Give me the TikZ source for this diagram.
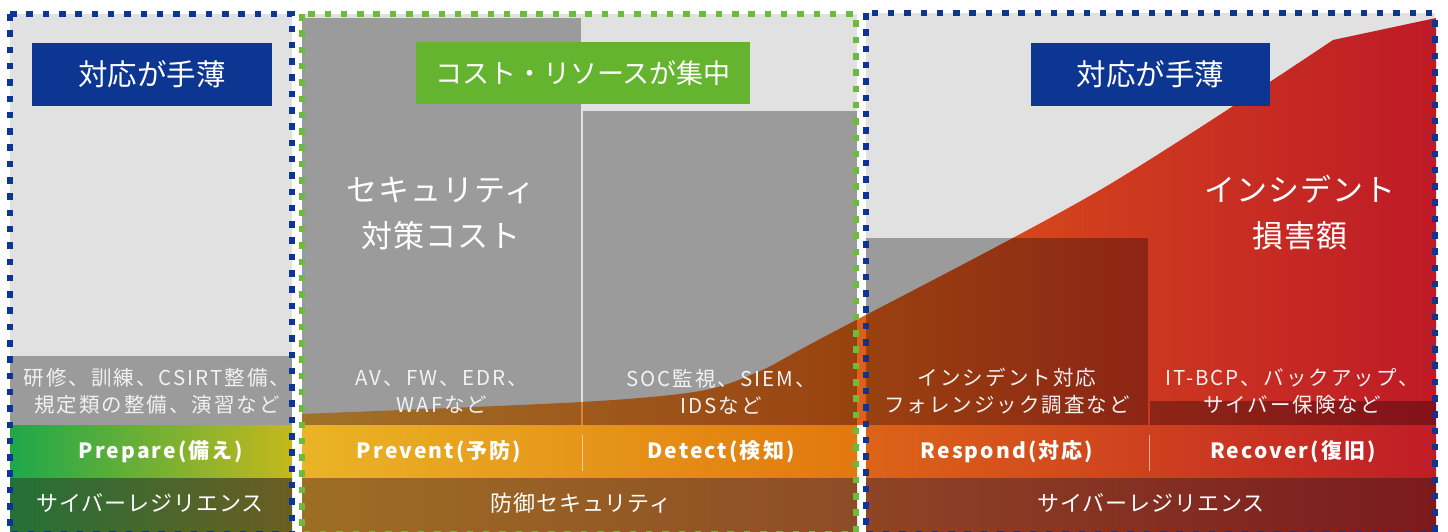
\documentclass[tikz,border=0pt]{standalone}
\usepackage{fontspec}
\setmainfont{Noto Sans CJK JP}
\newfontfamily\jpls{Noto Sans CJK JP}[LetterSpace=10]
\newfontfamily\jpbl{Noto Sans CJK JP}[LetterSpace=10]
\newfontfamily\jpbig{Noto Sans CJK JP}[LetterSpace=3]
\newfontfamily\jprow{Noto Sans CJK JP}[LetterSpace=4]
\definecolor{panelgray}{HTML}{E1E1E1}
\definecolor{dotblue}{HTML}{0C3594}
\definecolor{dotgreen}{HTML}{6CBB3C}
\definecolor{tagblue}{HTML}{0D3592}
\definecolor{taggreen}{HTML}{64B42F}
\definecolor{subwhite}{HTML}{F2F2F2}
\definecolor{dmgA}{HTML}{EAA63A}
\definecolor{dmgB}{HTML}{DF5F18}
\definecolor{dmgD}{HTML}{CF3C1E}
\definecolor{dmgC}{HTML}{BE1A27}
\pgfdeclarehorizontalshading{dmgshade}{100bp}{color(0bp)=(dmgA); color(25bp)=(dmgA); color(49.9bp)=(dmgB); color(60.2bp)=(dmgD); color(75bp)=(dmgC); color(100bp)=(dmgC)}
\definecolor{lrA}{HTML}{1EA84C}
\definecolor{lrB}{HTML}{C4B81C}
\definecolor{lsA}{HTML}{247038}
\definecolor{lsB}{HTML}{6B5D22}
\definecolor{mrA}{HTML}{EAB426}
\definecolor{mrB}{HTML}{E2780E}
\definecolor{msA}{HTML}{9E6E24}
\definecolor{msB}{HTML}{8D4C26}
\definecolor{rrA}{HTML}{DC6418}
\definecolor{rrB}{HTML}{C01C26}
\definecolor{rsA}{HTML}{8E4426}
\definecolor{rsB}{HTML}{7A1A1E}
\begin{document}
\begin{tikzpicture}[x=1pt,y=-1pt,
  panelbg/.style={fill=panelgray},
  costbar/.style={fill=black, fill opacity=0.31},
  tagbox/.style={minimum height=63pt, inner sep=0pt, text=white, font=\fontsize{29.5}{32}\selectfont},
  subtxt/.style={text=subwhite, align=center, inner sep=0pt, font=\jpls\fontsize{20.5}{27}\selectfont},
  phase/.style={text=white, inner sep=0pt, font=\jpbl\bfseries\fontsize{21}{24}\selectfont},
  rowtxt/.style={text=white, inner sep=0pt, font=\jprow\fontsize{22}{26}\selectfont},
  bigtxt/.style={text=white, align=center, inner sep=0pt, font=\jpbig\fontsize{31}{46}\selectfont},
  bluedots/.style={draw=dotblue, line width=6.5pt, dash pattern=on 6.5pt off 9.8pt},
  greendots/.style={draw=dotgreen, line width=6.5pt, dash pattern=on 6.5pt off 9.8pt},
  sepline/.style={draw=white, draw opacity=0.55, line width=1pt}]
\useasboundingbox (0,0) rectangle (1448,531);
\fill[white] (0,0) rectangle (1448,531);
% panel backgrounds
\fill[panelbg] (10,14) rectangle (292,531);
\fill[panelbg] (302,14) rectangle (857,531);
\fill[panelbg] (866,13) rectangle (1435,531);
% incident damage area
\shade[shading=dmgshade]
  plot[smooth, tension=0.5] coordinates {(302,414) (581,402) (700,391) (760,371) (820,339) (1100,190) (1333,40)}
  -- (1436,18) -- (1436,425) -- (302,425) -- cycle;
% cost bars
\fill[costbar] (10,356) rectangle (292,425);
\fill[costbar] (302,18) rectangle (581,425);
\fill[costbar] (582.6,111) rectangle (857,425);
\fill[costbar] (866,238) rectangle (1148,425);
\fill[costbar] (1150,401) rectangle (1436,425);
% phase rows
\shade[left color=lrA, right color=lrB] (10,425) rectangle (292,478);
\shade[left color=lsA, right color=lsB] (10,478) rectangle (292,531);
\shade[left color=mrA, right color=mrB] (302,425) rectangle (857,478);
\shade[left color=msA, right color=msB] (302,478) rectangle (857,531);
\shade[left color=rrA, right color=rrB] (866,425) rectangle (1436,478);
\shade[left color=rsA, right color=rsB] (866,478) rectangle (1436,531);
% separators
\coordinate (s1t) at (582.5,435); \coordinate (s1b) at (582.5,471);
\coordinate (s2t) at (1149.5,435); \coordinate (s2b) at (1149.5,471);
\draw[sepline] (s1t) -- (s1b);
\draw[sepline] (s2t) -- (s2b);
% dotted borders
\draw[bluedots] (10,14) rectangle (292,534);
\draw[greendots] (302,14) rectangle (856,534);
\draw[bluedots] (866,13) rectangle (1435,534);
% tag boxes
\node[tagbox, fill=tagblue, minimum width=240pt] (tagL) at (152,74.5) {対応が手薄};
\node[tagbox, fill=taggreen, minimum width=334pt, minimum height=62pt, font=\fontsize{27}{32}\selectfont] (tagM) at (583,73) {コスト・リソースが集中};
\node[tagbox, fill=tagblue, minimum width=239pt] (tagR) at (1150.5,74.5) {対応が手薄};
% big labels
\node[bigtxt] (cost) at (441,213) {セキュリティ\\対策コスト};
\node[bigtxt] (loss) at (1300,213) {インシデント\\損害額};
% sub texts
\node[subtxt] (subL) at (157,391.5) {研修、訓練、CSIRT整備、\\規定類の整備、演習など};
\node[subtxt] (subP) at (442,391.5) {AV、FW、EDR、\\WAFなど};
\node[subtxt] (subD) at (721,391.5) {SOC監視、SIEM、\\IDSなど};
\node[subtxt] (subRs) at (1007,391.5) {インシデント対応\\フォレンジック調査など};
\node[subtxt] (subRc) at (1292,391.5) {IT-BCP、バックアップ、\\サイバー保険など};
% phase labels
\node[phase] (prep) at (161,452) {Prepare(備え)};
\node[phase] (prev) at (439,452) {Prevent(予防)};
\node[phase] (det) at (721,452) {Detect(検知)};
\node[phase] (resp) at (1007,452) {Respond(対応)};
\node[phase] (reco) at (1293,452) {Recover(復旧)};
% category labels
\node[rowtxt] (catL) at (150,503) {サイバーレジリエンス};
\node[rowtxt] (catM) at (581,503) {防御セキュリティ};
\node[rowtxt] (catR) at (1151,503) {サイバーレジリエンス};
\end{tikzpicture}
\end{document}
